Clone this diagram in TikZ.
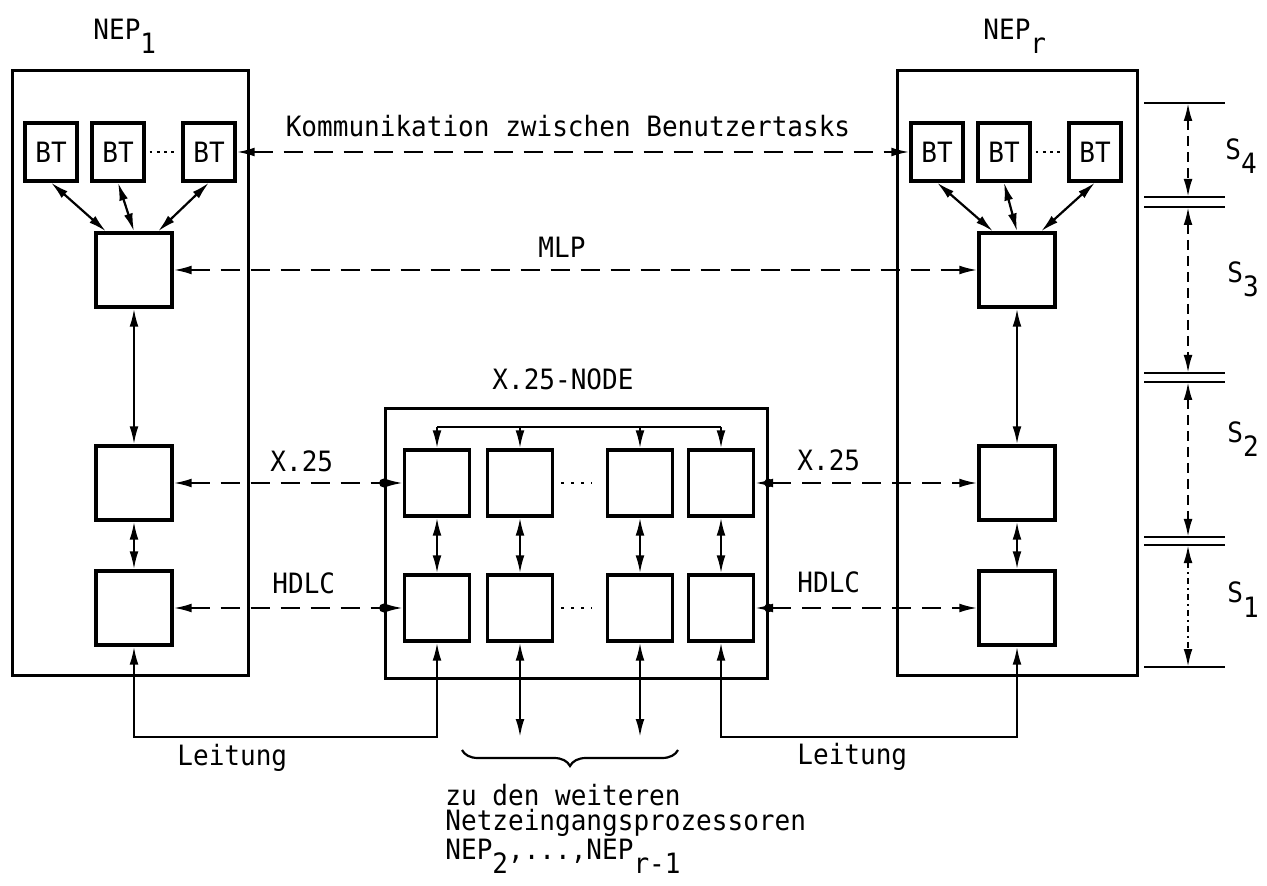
\documentclass[tikz,border=0pt]{standalone}
\usepackage{fontspec}
\setmonofont[FakeStretch=0.93]{DejaVu Sans Mono}
\usetikzlibrary{arrows.meta,positioning,calc,decorations.pathreplacing}
\newcommand{\lowsub}[1]{\raisebox{-0.5em}{#1}}

\begin{document}
\begin{tikzpicture}[x=0.5pt,y=-0.5pt,
  every node/.style={font=\ttfamily\fontsize{14}{12.5}\selectfont,inner sep=0pt},
  frame/.style={draw,line width=1.5pt},
  unit/.style={draw,line width=1.6pt,minimum width=38pt,minimum height=37pt},
  sw/.style={draw,line width=1.6pt,minimum width=32.5pt,minimum height=33pt},
  bt/.style={draw,line width=1.6pt,minimum width=26pt,minimum height=29pt},
  a/.style={line width=1.1pt,-{Latex[length=9pt,width=4.4pt]}},
  aa/.style={line width=1.1pt,{Latex[length=9pt,width=4.4pt]}-{Latex[length=9pt,width=4.4pt]}},
  da/.style={aa,dash pattern=on 9.5pt off 5.5pt},
  dots/.style={line width=1.4pt,dash pattern=on 1.4pt off 2.2pt},
  tick/.style={line width=1.3pt}]
 \useasboundingbox (0,0) rectangle (1267,886);
 \node[frame,minimum width=118pt,minimum height=302pt] (nep1) at (130,373) {};
 \node[frame,minimum width=120pt,minimum height=302pt] (nepr) at (1017,373) {};
 \node[frame,minimum width=191pt,minimum height=134.5pt] (xnode) at (576,543.5) {};
 \node[anchor=base west] (lab1) at (93,40) {NEP\lowsub{1}};
 \node[anchor=base west] (labr) at (983,40) {NEP\lowsub{r}};
 \node[anchor=base west] (labx) at (492,390) {X.25-NODE};
 % NEP 1
 \node[bt] (btL1) at (51,152) {BT};
 \node[bt] (btL2) at (118,152) {BT};
 \node[bt] (btL3) at (209,152) {BT};
 \node[unit] (mlpL) at (134,270) {};
 \node[unit] (x25L) at (134,483) {};
 \node[unit] (hdlcL) at (134,608) {};
 % NEP r
 \node[bt] (btR1) at (937,152) {BT};
 \node[bt] (btR2) at (1004,152) {BT};
 \node[bt] (btR3) at (1095,152) {BT};
 \node[unit] (mlpR) at (1017,270) {};
 \node[unit] (x25R) at (1017,483) {};
 \node[unit] (hdlcR) at (1017,608) {};
 % X.25 node
 \foreach \i/\x in {1/437,2/520,3/640,4/721} {
   \node[sw] (na\i) at (\x,483) {};
   \node[sw] (nb\i) at (\x,608) {};
 }
 \draw[dots,shorten <=2pt,shorten >=2pt] (btL2) -- (btL3);
 \draw[dots,shorten <=2pt,shorten >=2pt] (btR2) -- (btR3);
 \draw[dots,dash pattern=on 1.5pt off 3.5pt,shorten <=3.5pt,shorten >=7pt] (na2) -- (na3);
 \draw[dots,dash pattern=on 1.5pt off 3.5pt,shorten <=3.5pt,shorten >=7pt] (nb2) -- (nb3);
 \draw[aa] (btL1.south) -- ($(mlpL.north)+(-28,0)$);
 \draw[aa] (btL2.south) -- (mlpL.north);
 \draw[aa] (btL3.south) -- ($(mlpL.north)+(24,0)$);
 \draw[aa] (btR1.south) -- ($(mlpR.north)+(-24,0)$);
 \draw[aa] (btR2.south) -- (mlpR.north);
 \draw[aa] (btR3.south) -- ($(mlpR.north)+(24,0)$);
 \draw[aa] (mlpL) -- (x25L); \draw[aa] (x25L) -- (hdlcL);
 \draw[aa] (mlpR) -- (x25R); \draw[aa] (x25R) -- (hdlcR);
 \draw[da] (btL3) -- (btR1);
 \draw[da] (mlpL) -- (mlpR);
 \draw[da] (x25L) -- (na1); \draw[da] (na4) -- (x25R);
 \draw[da] (hdlcL) -- (nb1); \draw[da] (nb4) -- (hdlcR);
 \foreach \r in {na1,nb1} \fill (xnode.west|-\r) circle (2.2pt);
 \foreach \r in {na4,nb4} \fill (xnode.east|-\r) circle (2.2pt);
 \node[anchor=base] (kom) at (568,137) {Kommunikation zwischen Benutzertasks};
 \node[anchor=base west] (mlp) at (538,258) {MLP};
 \node[anchor=base west] (xl) at (270,472) {X.25};
 \node[anchor=base west] (xr) at (797,471) {X.25};
 \node[anchor=base west] (hl) at (272,593) {HDLC};
 \node[anchor=base west] (hr) at (797,592) {HDLC};
 % bus and lines
 \coordinate (bus) at (576,427);
 \draw[line width=1.1pt] (na1|-bus) -- (na4|-bus);
 \foreach \i in {1,...,4} \draw[a] (na\i|-bus) -- (na\i);
 \foreach \i in {1,...,4} \draw[aa] (na\i) -- (nb\i);
 \coordinate (leit) at (576,737);
 \coordinate (f2) at (nb2|-leit); \coordinate (f3) at (nb3|-leit);
 \draw[aa] (hdlcL.south) -- (hdlcL|-leit) -| (nb1.south);
 \draw[aa] (nb4.south) -- (nb4|-leit) -| (hdlcR.south);
 \draw[aa] (nb2) -- (f2); \draw[aa] (nb3) -- (f3);
 \node[anchor=base west] (tL) at (177,765) {Leitung};
 \node[anchor=base west] (tR) at (797,764) {Leitung};
 \coordinate (br1) at (462,750); \coordinate (br2) at (678,750);
 \draw[line width=1.1pt,decorate,decoration={brace,mirror,amplitude=8pt}] (br1) -- (br2);
 \node[anchor=north west,align=left] (ziel) at (445,784) {zu den weiteren\\Netzeingangsprozessoren\\NEP\lowsub{2},...,NEP\lowsub{r-1}};
 % levels
 \foreach \i/\y in {0/103,1/197,2/207,3/373,4/382,5/537,6/545,7/667} {
   \coordinate (d\i) at (1188,\y);
   \draw[tick] ($(d\i)+(-44,0)$) -- ($(d\i)+(37,0)$);
 }
 \draw[aa,dash pattern=on 5pt off 3pt] (d0) -- (d1);
 \draw[aa,dash pattern=on 5pt off 3pt] (d2) -- (d3);
 \draw[aa,dash pattern=on 5pt off 3pt] (d4) -- (d5);
 \draw[aa,dash pattern=on 3pt off 2pt on 1pt off 2pt] (d6) -- (d7);
 \node[anchor=base west] (s4) at (1225,160) {S\lowsub{4}};
 \node[anchor=base west] (s3) at (1227,283) {S\lowsub{3}};
 \node[anchor=base west] (s2) at (1227,443) {S\lowsub{2}};
 \node[anchor=base west] (s1) at (1227,603) {S\lowsub{1}};
\end{tikzpicture}
\end{document}
